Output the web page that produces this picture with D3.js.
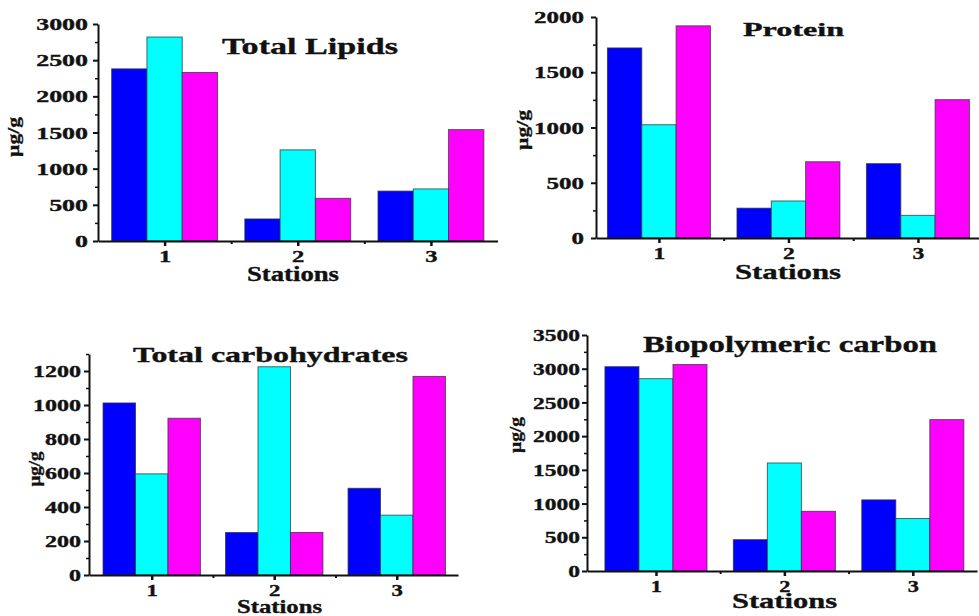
<!DOCTYPE html>
<html>
<head>
<meta charset="utf-8">
<script src="https://cdn.jsdelivr.net/npm/d3@7"></script>
<style>
  html, body { margin: 0; padding: 0; background: #fff; }
  svg { display: block; }
  text { font-family: "Liberation Serif", "Times New Roman", serif; font-weight: bold; fill: #111; stroke: #111; stroke-width: 0.35px; }
</style>
</head>
<body>
<svg id="chart" width="979" height="616"></svg>
<script>
// ---------- DATA ----------
const stations = [1, 2, 3];
const seriesColors = ["#0000ff", "#00ffff", "#ff00ff"];

// rows = series (blue, cyan, magenta), columns = stations 1..3
const totalLipids        = [[2380, 305, 690], [2820, 1260, 720], [2330, 590, 1540]];
const protein            = [[1720, 270, 673], [1025, 335, 205], [1920, 690, 1252]];
const totalCarbohydrates = [[1012, 250, 510], [595, 1225, 352], [922, 250, 1168]];
const biopolymericCarbon = [[3030, 465, 1055], [2852, 1602, 778], [3062, 885, 2245]];

const lipidsTicks  = [0, 500, 1000, 1500, 2000, 2500, 3000];
const proteinTicks = [0, 500, 1000, 1500, 2000];
const carbTicks    = [0, 200, 400, 600, 800, 1000, 1200];
const bpcTicks     = [0, 500, 1000, 1500, 2000, 2500, 3000, 3500];

const panelTitles = ["Total Lipids", "Protein", "Total carbohydrates", "Biopolymeric carbon"];
const xLabel = "Stations";
const yLabel = "µg/g";

// ---------- LAYOUT ----------
const panels = [
  { data: totalLipids, ticks: lipidsTicks, yMax: 3000, minorStep: 250,
    xDom: [0.5, 3.5], xRange: [98, 497.5], yRange: [241, 24], sx: 1.62, yGap: 10,
    title: { x: 222, y: 54, len: 176, size: 23 },
    xl: { x: 247, y: 281, len: 92, size: 20 },
    yl: { x: 19, y: 137, len: 40, size: 17 } },
  { data: protein, ticks: proteinTicks, yMax: 2000, minorStep: 250,
    xDom: [0.514, 3.5], xRange: [596, 982.7], yRange: [238, 17], sx: 1.56, yGap: 12,
    title: { x: 743, y: 36, len: 101, size: 19 },
    xl: { x: 735, y: 279, len: 106, size: 22 },
    yl: { x: 528, y: 130, len: 40, size: 17 } },
  { data: totalCarbohydrates, ticks: carbTicks, yMax: 1300, minorStep: 100,
    xDom: [0.488, 3.5], xRange: [89, 458], yRange: [575, 354], sx: 1.5, yGap: 8,
    title: { x: 133, y: 362, len: 275, size: 22 },
    xl: { x: 237, y: 613, len: 85, size: 19 },
    yl: { x: 40, y: 469, len: 35, size: 17 } },
  { data: biopolymericCarbon, ticks: bpcTicks, yMax: 3500, minorStep: 250,
    xDom: [0.463, 3.5], xRange: [587, 977], yRange: [571, 335], sx: 1.47, yGap: 7,
    title: { x: 643, y: 352, len: 294, size: 23 },
    xl: { x: 732, y: 608, len: 105, size: 22 },
    yl: { x: 521, y: 435, len: 36, size: 17 } }
];

const svg = d3.select("#chart");
const barW = 0.265;

panels.forEach((p, pi) => {
  const g = svg.append("g");
  const x = d3.scaleLinear().domain(p.xDom).range(p.xRange);
  const y = d3.scaleLinear().domain([0, p.yMax]).range(p.yRange);

  // bars
  p.data.forEach((series, si) => {
    g.append("g").selectAll("rect")
      .data(series.map((v, i) => ({ st: stations[i], v })))
      .join("rect")
      .attr("x", d => x(d.st + (si - 1.5) * barW))
      .attr("width", d => x(d.st + barW) - x(d.st))
      .attr("y", d => y(d.v))
      .attr("height", d => y(0) - y(d.v))
      .attr("fill", seriesColors[si])
      .attr("stroke", "#333")
      .attr("stroke-opacity", 0.75)
      .attr("stroke-width", 1);
  });

  // y axis minor ticks
  const minorVals = d3.range(0, p.yMax + 0.001, p.minorStep).filter(v => !p.ticks.includes(v));
  g.append("g")
    .attr("transform", `translate(${p.xRange[0]},0)`)
    .call(d3.axisLeft(y).tickValues(minorVals).tickSize(3).tickSizeOuter(0).tickFormat(""))
    .call(a => a.select(".domain").remove())
    .call(a => a.selectAll("line").attr("stroke", "#111").attr("stroke-width", 1.5));

  // y axis major
  const ya = g.append("g")
    .attr("transform", `translate(${p.xRange[0]},0)`)
    .call(d3.axisLeft(y).tickValues(p.ticks).tickSize(5).tickSizeOuter(0).tickFormat(d3.format("d")));
  ya.select(".domain").attr("stroke", "#111").attr("stroke-width", 2);
  ya.selectAll("line").attr("stroke", "#111").attr("stroke-width", 2);
  ya.selectAll("text")
    .attr("x", 0)
    .attr("dy", "0.35em")
    .attr("font-size", 16)
    .attr("font-family", "Liberation Serif")
    .attr("font-weight", "bold")
    .attr("fill", "#111")
    .attr("transform", `translate(${-p.yGap},0) scale(${p.sx},1)`);

  // x axis minor
  g.append("g")
    .attr("transform", `translate(0,${p.yRange[0]})`)
    .call(d3.axisBottom(x).tickValues([1.5, 2.5]).tickSize(3).tickSizeOuter(0).tickFormat(""))
    .call(a => a.select(".domain").remove())
    .call(a => a.selectAll("line").attr("stroke", "#111").attr("stroke-width", 2));

  // x axis major
  const xa = g.append("g")
    .attr("transform", `translate(0,${p.yRange[0]})`)
    .call(d3.axisBottom(x).tickValues(stations).tickSize(5).tickSizeOuter(0).tickFormat(d3.format("d")));
  xa.select(".domain").attr("stroke", "#111").attr("stroke-width", 2);
  xa.selectAll("line").attr("stroke", "#111").attr("stroke-width", 2.5);
  xa.selectAll("text")
    .attr("y", 0)
    .attr("dy", "0.71em")
    .attr("font-size", 16)
    .attr("font-family", "Liberation Serif")
    .attr("font-weight", "bold")
    .attr("fill", "#111")
    .attr("transform", `translate(0,10) scale(${p.sx * 0.95},1)`);

  // title
  g.append("text")
    .attr("x", p.title.x).attr("y", p.title.y)
    .attr("font-size", p.title.size)
    .attr("textLength", p.title.len)
    .attr("lengthAdjust", "spacingAndGlyphs")
    .text(panelTitles[pi]);

  // x label
  g.append("text")
    .attr("x", p.xl.x).attr("y", p.xl.y)
    .attr("font-size", p.xl.size)
    .attr("textLength", p.xl.len)
    .attr("lengthAdjust", "spacingAndGlyphs")
    .text(xLabel);

  // y label
  g.append("text")
    .attr("transform", `translate(${p.yl.x},${p.yl.y}) rotate(-90)`)
    .attr("x", -p.yl.len / 2).attr("y", 0)
    .attr("font-size", p.yl.size)
    .attr("textLength", p.yl.len)
    .attr("lengthAdjust", "spacingAndGlyphs")
    .text(yLabel);
});
</script>
</body>
</html>
